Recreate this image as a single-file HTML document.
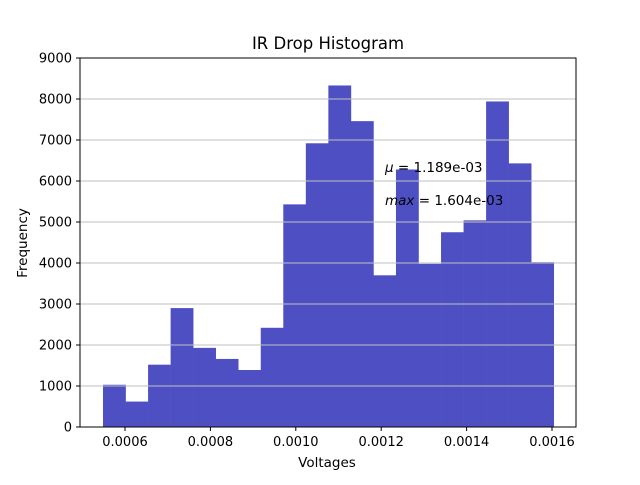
<!DOCTYPE html>
<html><head><meta charset="utf-8"><style>
body{margin:0;background:#fff;}
svg text{font-family:"DejaVu Sans","Liberation Sans",sans-serif;}
</style></head><body>
<svg id="chart" width="640" height="480" xmlns="http://www.w3.org/2000/svg">
<rect width="640" height="480" fill="#fff"/>
<text x="328" y="49" font-size="16.5" text-anchor="middle">IR Drop Histogram</text>
<g id="bars"></g>
<g id="grid"></g>
<rect x="80" y="58" width="496" height="369" fill="none" stroke="#000" stroke-width="1"/>
<g id="xaxis"></g><g id="yaxis"></g>
<text x="327" y="467" font-size="13.5" text-anchor="middle">Voltages</text>
<text x="27" y="243" font-size="13.5" text-anchor="middle" transform="rotate(-90 27 243)">Frequency</text>
<text x="385" y="172" font-size="13.5"><tspan font-style="italic">μ</tspan> = 1.189e-03</text>
<text x="385" y="205" font-size="13.5"><tspan font-style="italic">max</tspan> = 1.604e-03</text>
</svg>
<script>
const binStart = 0.0005485;
const binEnd = 0.001604;
const counts = [1030, 620, 1520, 2900, 1930, 1660, 1390, 2420, 5430, 6920, 8330, 7460, 3700, 6280, 3980, 4750, 5040, 7940, 6430, 4020];
const xTicks = [0.0006, 0.0008, 0.0010, 0.0012, 0.0014, 0.0016];
const xTickLabels = ["0.0006","0.0008","0.0010","0.0012","0.0014","0.0016"];
const yTicks = [0,1000,2000,3000,4000,5000,6000,7000,8000,9000];

const NS="http://www.w3.org/2000/svg";
function xs(v){return 125+(v-0.0006)/0.001*427;}
function ys(v){return 427-v/9000*369;}
function mk(t,a,p){const e=document.createElementNS(NS,t);for(const k in a)e.setAttribute(k,a[k]);p.appendChild(e);return e;}
const bars=document.getElementById('bars'),grid=document.getElementById('grid'),xa=document.getElementById('xaxis'),ya=document.getElementById('yaxis');
const w=(binEnd-binStart)/counts.length;
counts.forEach((c,i)=>{
  const x0=xs(binStart+i*w),x1=xs(binStart+(i+1)*w);
  const r=mk('rect',{x:x0,y:ys(c),width:x1-x0+0.3,height:ys(0)-ys(c),fill:'#4f4fc4'},bars);
  
  
});
yTicks.forEach(v=>{
  const y=ys(v);
  const g=mk('line',{x1:80,x2:576,y1:y,y2:y,stroke:'#bfbfbf','stroke-width':1},grid);
  
  
  mk('line',{x1:76,x2:80,y1:y,y2:y,stroke:'#000'},ya);
  const t=mk('text',{x:72,y:y+4.5,'font-size':13,'text-anchor':'end'},ya);
  t.textContent=v;
  
  
});
xTicks.forEach((v,i)=>{
  const x=xs(v);
  mk('line',{x1:x,x2:x,y1:427,y2:431,stroke:'#000'},xa);
  const t=mk('text',{x:x,y:446,'font-size':13,'text-anchor':'middle'},xa);
  t.textContent=xTickLabels[i];
  
  
});
</script>
</body></html>
